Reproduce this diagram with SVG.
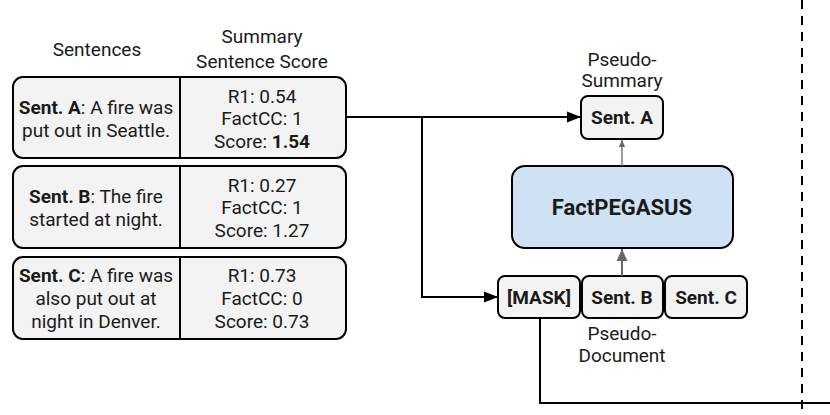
<svg xmlns="http://www.w3.org/2000/svg" width="830" height="415" viewBox="0 0 830 415">
<style>
text{font-family:Roboto,"Liberation Sans",sans-serif;font-size:19px;fill:#1a1a1a;text-anchor:middle}
.b{font-weight:bold}
.box{fill:#f3f3f3;stroke:#000;stroke-width:2}
.div{stroke:#000;stroke-width:2}
.conn{fill:none;stroke:#000;stroke-width:2}
.gray{fill:none;stroke:#666;stroke-width:1.3}
</style>
<defs>
<marker id="ah" markerWidth="14" markerHeight="12" refX="13" refY="6" orient="auto" markerUnits="userSpaceOnUse" viewBox="0 0 14 12"><path d="M0,0.5 L14,6 L0,11.5 z" fill="#000"/></marker>
<marker id="ag" markerWidth="12" markerHeight="12" refX="12" refY="6" orient="auto" markerUnits="userSpaceOnUse" viewBox="0 0 12 12"><path d="M0,0.5 L12,6 L0,11.5 z" fill="#666"/></marker>
<marker id="as" markerWidth="7" markerHeight="7" refX="7" refY="3.5" orient="auto" markerUnits="userSpaceOnUse" viewBox="0 0 7 7"><path d="M0,0.3 L7,3.5 L0,6.7 z" fill="#666"/></marker>
</defs>
<g id="headers">
<text x="97" y="56">Sentences</text>
<text x="262" y="43">Summary</text>
<text x="262" y="68">Sentence Score</text>
</g>
<g id="sentA">
<rect class="box" x="13" y="77" width="333" height="81" rx="10"/>
<line class="div" x1="180" y1="77" x2="180" y2="158"/>
<text x="96" y="114"><tspan class="b">Sent. A</tspan>: A fire was</text>
<text x="96" y="137">put out in Seattle.</text>
<text x="262" y="103">R1: 0.54</text>
<text x="262" y="125">FactCC: 1</text>
<text x="262" y="148">Score: <tspan class="b">1.54</tspan></text>
</g>
<g id="sentB">
<rect class="box" x="13" y="166" width="333" height="82" rx="10"/>
<line class="div" x1="180" y1="166" x2="180" y2="248"/>
<text x="96" y="203"><tspan class="b">Sent. B</tspan>: The fire</text>
<text x="96" y="226">started at night.</text>
<text x="262" y="192">R1: 0.27</text>
<text x="262" y="214">FactCC: 1</text>
<text x="262" y="237">Score: 1.27</text>
</g>
<g id="sentC">
<rect class="box" x="13" y="257" width="333" height="82" rx="10"/>
<line class="div" x1="180" y1="257" x2="180" y2="339"/>
<text x="96" y="282"><tspan class="b">Sent. C</tspan>: A fire was</text>
<text x="96" y="305">also put out at</text>
<text x="96" y="328">night in Denver.</text>
<text x="262" y="282">R1: 0.73</text>
<text x="262" y="305">FactCC: 0</text>
<text x="262" y="328">Score: 0.73</text>
</g>
<g id="pseudoSummary">
<text x="622" y="66">Pseudo-</text>
<text x="622" y="87">Summary</text>
<rect class="box" x="581" y="96" width="82" height="43" rx="7"/>
<text class="b" x="622" y="124">Sent. A</text>
</g>
<g id="factpegasus">
<rect x="512" y="166" width="221" height="82" rx="13" fill="#cfe2f3" stroke="#000" stroke-width="2"/>
<text class="b" x="622" y="215" style="font-size:22px">FactPEGASUS</text>
</g>
<g id="pseudoDocument">
<rect class="box" x="498" y="276" width="82" height="42" rx="7"/>
<text class="b" x="539" y="304">[MASK]</text>
<rect class="box" x="582" y="276" width="81" height="42" rx="7"/>
<text class="b" x="622" y="304">Sent. B</text>
<rect class="box" x="665" y="276" width="82" height="42" rx="7"/>
<text class="b" x="706" y="304">Sent. C</text>
<text x="622" y="340">Pseudo-</text>
<text x="622" y="362">Document</text>
</g>
<g id="connectors">
<path class="conn" d="M346,117 H580" marker-end="url(#ah)"/>
<path class="conn" d="M422,117 V297 H497" marker-end="url(#ah)"/>
<path class="gray" d="M622,166 V140" marker-end="url(#as)"/>
<path class="conn" d="M622,276 V249" style="stroke:#666" marker-end="url(#ag)"/>
<path class="conn" d="M540,318 V403 H830"/>
<line x1="802" y1="0" x2="802" y2="415" stroke="#000" stroke-width="2" stroke-dasharray="9,7"/>
</g>
</svg>
